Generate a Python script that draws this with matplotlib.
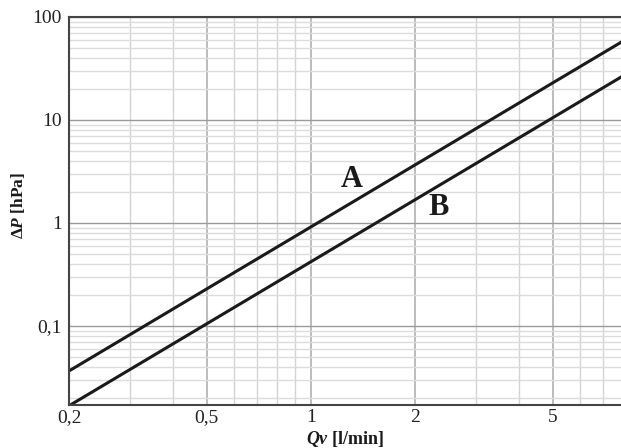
import matplotlib
matplotlib.use("Agg")
import matplotlib.pyplot as plt
from matplotlib.ticker import FixedLocator, NullFormatter, LogLocator

# Data (flow rate vs pressure drop)
q_values = [0.2, 0.5, 1.0, 2.0, 5.0, 7.88]
dp_a = [0.0366, 0.229, 0.915, 3.66, 22.9, 56.8]
dp_b = [0.0168, 0.105, 0.42, 1.68, 10.5, 26.1]
x_ticks = [0.2, 0.5, 1, 2, 5]
x_tick_labels = ["0,2", "0,5", "1", "2", "5"]
y_ticks = [0.1, 1, 10, 100]
y_tick_labels = ["0,1", "1", "10", "100"]
series_labels = ["A", "B"]

plt.rcParams['font.family'] = ['Liberation Serif', 'DejaVu Serif']
plt.rcParams['mathtext.fontset'] = 'custom'
plt.rcParams['mathtext.rm'] = 'Liberation Serif:bold'
plt.rcParams['mathtext.it'] = 'Liberation Serif:italic:bold'
plt.rcParams['mathtext.bf'] = 'Liberation Serif:bold'

fig = plt.figure(figsize=(6.21, 4.48), dpi=100)
W, H = 621, 448
left, right, top, bottom = 69, 621, 17, 405
ax = fig.add_axes([left / W, 1 - bottom / H, (right - left) / W, (bottom - top) / H])

ax.set_xscale('log')
ax.set_yscale('log')
ax.set_xlim(0.2, 7.88)
ax.set_ylim(0.0171, 100)

# grid
x_minor = [0.3, 0.4, 0.6, 0.7, 0.8, 0.9, 3, 4, 6, 7]
ax.xaxis.set_major_locator(FixedLocator(x_ticks))
ax.xaxis.set_minor_locator(FixedLocator(x_minor))
ax.set_xticks(x_ticks)
ax.set_xticklabels(x_tick_labels)
ax.xaxis.set_minor_formatter(NullFormatter())
ax.yaxis.set_major_locator(FixedLocator(y_ticks))
ax.set_yticklabels(y_tick_labels)
ax.yaxis.set_minor_locator(LogLocator(base=10, subs=range(2, 10)))
ax.yaxis.set_minor_formatter(NullFormatter())

ax.grid(True, which='major', axis='y', color='#9a9a9a', lw=1.0)
ax.grid(True, which='minor', axis='y', color='#dcdcdc', lw=1.0)
ax.grid(True, which='major', axis='x', color='#b0b0b0', lw=1.2)
ax.grid(True, which='minor', axis='x', color='#d4d4d4', lw=1.0)
ax.set_axisbelow(True)

ax.tick_params(which='both', length=0, labelsize=14, colors='#222222')
ax.tick_params(axis='x', pad=3)
ax.tick_params(axis='y', pad=5)

for s in ['left', 'bottom', 'top']:
    ax.spines[s].set_color('#444444')
    ax.spines[s].set_linewidth(1.5)
ax.spines['right'].set_visible(False)

ax.plot(q_values, dp_a, color='#1a1a1a', lw=2.2, clip_on=True)
ax.plot(q_values, dp_b, color='#1a1a1a', lw=2.2, clip_on=True)

ax.text(1.31, 2.67, series_labels[0], fontsize=22, fontweight='bold', ha='center', va='center', color='#1a1a1a')
ax.text(2.34, 1.40, series_labels[1], fontsize=22, fontweight='bold', ha='center', va='center', color='#1a1a1a')

fig.text(18 / W, 1 - 205 / H, r"$\Delta\mathit{P}$ [hPa]", fontsize=12.5, fontweight='bold',
         rotation=90, ha='center', va='center', color='#1a1a1a')
fig.text(345 / W, 1 - 439 / H, r"$\mathit{Qv}$ [l/min]", fontsize=13, fontweight='bold',
         ha='center', va='center', color='#1a1a1a')

fig.savefig("out.png", dpi=100)
